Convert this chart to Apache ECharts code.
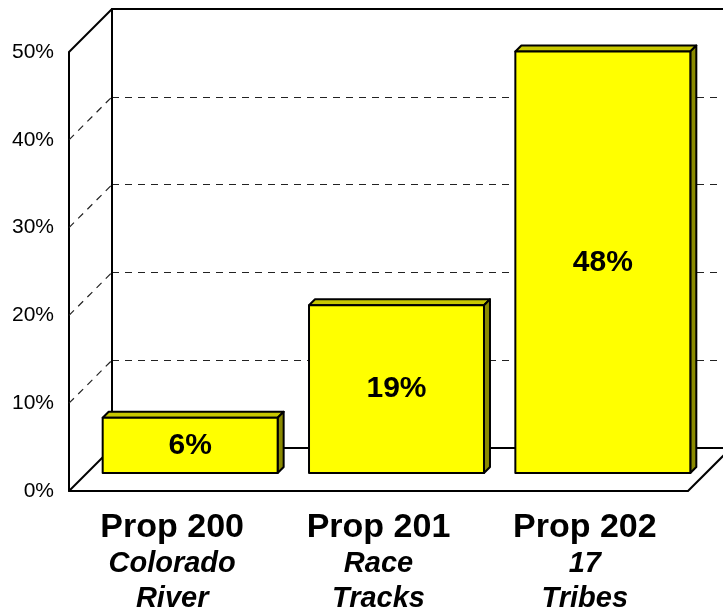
<!DOCTYPE html>
<html>
<head>
<meta charset="utf-8">
<script src="https://cdn.jsdelivr.net/npm/echarts@6/dist/echarts.min.js"></script>
<style>html,body{margin:0;padding:0;background:#fff}#c{width:723px;height:615px}</style>
</head>
<body>
<div id="c"></div>
<script>
const categories = ['Prop 200', 'Prop 201', 'Prop 202'];
const subtitles = [['Colorado', 'River'], ['Race', 'Tracks'], ['17', 'Tribes']];
const values = [6.3, 19.1, 48.0];
const valueLabels = ['6%', '19%', '48%'];
const yMin = 0, yMax = 50, yStep = 10;

const FONT = '"Liberation Sans", Arial, sans-serif';
const DEPTH = 43;     // wall depth (px)
const BZ = 18;        // bar front face depth (px)
const BD = 6;         // bar thickness (px)
const BAR_FRAC = 0.848;

const chart = echarts.init(document.getElementById('c'), null, {renderer: 'canvas'});

const frameData = [];
for (let v = yMin; v <= yMax; v += yStep) frameData.push([0, v]);
frameData.push([categories.length, 0]);

const barData = categories.map((c, i) => [i + 0.5, values[i]]);

chart.setOption({
  animation: false,
  backgroundColor: '#fff',
  grid: [
    {left: 69, top: 52, width: 619, height: 439},
    {left: 112, top: 9, width: 619, height: 439}
  ],
  xAxis: [
    {
      gridIndex: 0, type: 'category', data: categories, position: 'bottom',
      axisLine: {show: true, onZero: false, lineStyle: {color: '#000', width: 2}},
      axisTick: {show: false}, splitLine: {show: false},
      axisLabel: {
        margin: 19, interval: 0,
        formatter: (val, idx) => `{a|${val}}\n{b|${subtitles[idx][0]}}\n{b|${subtitles[idx][1]}}`,
        rich: {
          a: {fontSize: 34, fontWeight: 'bold', fontFamily: FONT, color: '#000', lineHeight: 36},
          b: {fontSize: 29, fontWeight: 'bold', fontStyle: 'italic', fontFamily: FONT, color: '#000', lineHeight: 35}
        }
      }
    },
    {gridIndex: 0, type: 'value', min: 0, max: categories.length, show: false},
    {
      gridIndex: 1, type: 'value', min: 0, max: 1, position: 'bottom',
      axisLine: {show: true, onZero: false, lineStyle: {color: '#000', width: 2}},
      axisTick: {show: false}, axisLabel: {show: false}, splitLine: {show: false}
    },
    {
      gridIndex: 1, type: 'value', min: 0, max: 1, position: 'top',
      axisLine: {show: true, onZero: false, lineStyle: {color: '#000', width: 2}},
      axisTick: {show: false}, axisLabel: {show: false}, splitLine: {show: false}
    }
  ],
  yAxis: [
    {
      gridIndex: 0, type: 'value', min: yMin, max: yMax, interval: yStep,
      axisLine: {show: true, onZero: false, lineStyle: {color: '#000', width: 2}},
      axisTick: {show: false}, splitLine: {show: false},
      axisLabel: {formatter: '{value}%', fontSize: 21, fontFamily: FONT, color: '#000', margin: 15}
    },
    {
      gridIndex: 1, type: 'value', min: yMin, max: yMax, interval: yStep,
      axisLine: {show: true, onZero: false, lineStyle: {color: '#000', width: 2}},
      axisTick: {show: false}, axisLabel: {show: false},
      splitLine: {show: true, lineStyle: {color: '#222', width: 1, type: [7, 6]}}
    }
  ],
  series: [
    {
      type: 'custom', name: 'frame', xAxisIndex: 1, yAxisIndex: 0, z: 2,
      data: frameData,
      renderItem: function (params, api) {
        const xv = api.value(0), v = api.value(1);
        const p = api.coord([xv, v]);
        const dashed = xv === 0 && v > yMin && v < yMax;
        return {
          type: 'line',
          shape: {x1: p[0], y1: p[1], x2: p[0] + DEPTH, y2: p[1] - DEPTH},
          style: dashed
            ? {stroke: '#222', lineWidth: 1.2, lineDash: [7, 6]}
            : {stroke: '#000', lineWidth: 2}
        };
      }
    },
    {
      type: 'custom', name: 'bars', xAxisIndex: 1, yAxisIndex: 0, z: 5,
      data: barData,
      renderItem: function (params, api) {
        const xv = api.value(0), v = api.value(1);
        const top = api.coord([xv, v]);
        const base = api.coord([xv, 0]);
        const w = api.size([1, 0])[0] * BAR_FRAC;
        const x1 = top[0] - w / 2 + BZ, x2 = top[0] + w / 2 + BZ;
        const yt = top[1] - BZ, yb = base[1] - BZ;
        const stroke = {stroke: '#000', lineWidth: 2, lineJoin: 'round'};
        return {
          type: 'group',
          children: [
            {type: 'polygon', shape: {points: [[x1, yt], [x2, yt], [x2 + BD, yt - BD], [x1 + BD, yt - BD]]},
             style: Object.assign({fill: '#c8c800'}, stroke)},
            {type: 'polygon', shape: {points: [[x2, yt], [x2 + BD, yt - BD], [x2 + BD, yb - BD], [x2, yb]]},
             style: Object.assign({fill: '#8a8a00'}, stroke)},
            {type: 'rect', shape: {x: x1, y: yt, width: x2 - x1, height: yb - yt},
             style: Object.assign({fill: '#ffff00'}, stroke)},
            {type: 'text', x: (x1 + x2) / 2, y: (yt + yb) / 2,
             style: {text: valueLabels[params.dataIndex], fill: '#000', fontSize: 30, fontWeight: 'bold',
                     fontFamily: FONT, align: 'center', verticalAlign: 'middle'}}
          ]
        };
      }
    }
  ]
});
</script>
</body>
</html>
